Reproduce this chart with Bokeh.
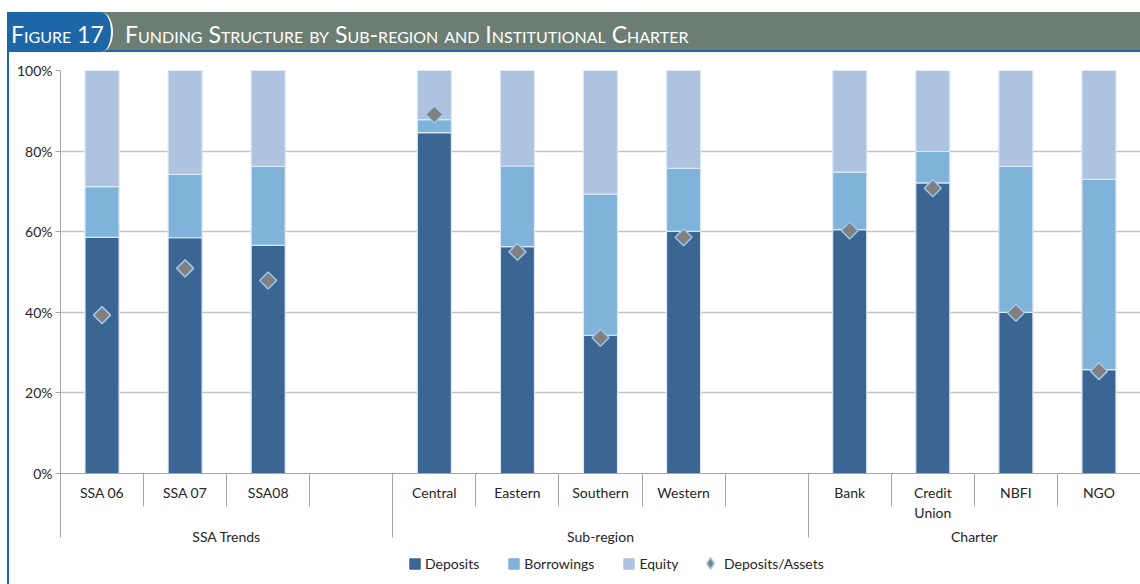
import math
from bokeh.plotting import figure
from bokeh.models import (ColumnDataSource, FixedTicker, LinearAxis, Range1d,
                          PrintfTickFormatter, Legend, LegendItem, Div)
from bokeh.layouts import column
from bokeh.embed import file_html
from bokeh.resources import INLINE

# ---------------- data ----------------
groups = ["SSA Trends", "Sub-region", "Charter"]
group_members = [["SSA 06", "SSA 07", "SSA08"],
                 ["Central", "Eastern", "Southern", "Western"],
                 ["Bank", "Credit Union", "NBFI", "NGO"]]
tick_labels = ["SSA 06", "SSA 07", "SSA08",
               "Central", "Eastern", "Southern", "Western",
               "Bank", "Credit\nUnion", "NBFI", "NGO"]
deposits = [58.6, 58.5, 56.6, 84.6, 56.3, 34.3, 60.1, 60.5, 72.1, 40.0, 25.8]
borrowings = [12.6, 15.7, 19.6, 3.2, 20.0, 35.0, 15.6, 14.3, 7.8, 36.2, 47.2]
equity = [28.8, 25.8, 23.8, 12.2, 23.7, 30.7, 24.3, 25.2, 20.1, 23.8, 27.0]
deposits_assets = [39.3, 50.9, 47.9, 89.1, 55.0, 33.7, 58.6, 60.3, 70.8, 39.9, 25.4]
series_names = ["Deposits", "Borrowings", "Equity", "Deposits/Assets"]
y_ticks = [0, 20, 40, 60, 80, 100]

# ---------------- slot layout (one empty slot after each group but the last) ----
xs, group_centers, group_starts = [], [], []
i = 0
for gi, members in enumerate(group_members):
    start = i
    group_starts.append(start)
    for m in members:
        xs.append(i + 0.5)
        i += 1
    if gi < len(group_members) - 1:
        i += 1
    group_centers.append((start + i) / 2)
n_slots = i
boundaries = list(range(0, n_slots))

C_DEP = "#3b6593"
C_BOR = "#7fb3d9"
C_EQU = "#aec3e0"
C_DIA = "#808080"
C_DIA_LINE = "#9fc5e8"
BAR_LINE = "#dce8f4"
AX = "#a6a6a6"
TXT = "#262626"
FONT = "Lato"
BLUE = "#1d66a8"
W = 1131

src = ColumnDataSource(dict(x=xs, Deposits=deposits, Borrowings=borrowings,
                            Equity=equity, da=deposits_assets))

p = figure(width=W, height=495, x_range=Range1d(0, n_slots), y_range=Range1d(0, 100),
           x_axis_type=None, output_backend="svg", toolbar_location=None,
           min_border_left=51, min_border_right=0, min_border_top=16, min_border_bottom=76)
p.outline_line_color = None
p.xgrid.visible = False
p.ygrid.grid_line_color = "#c4c4c4"
p.ygrid.grid_line_width = 1.4
p.ygrid.ticker = FixedTicker(ticks=y_ticks)

bars = p.vbar_stack(["Deposits", "Borrowings", "Equity"], x="x", width=0.41, source=src,
                    color=[C_DEP, C_BOR, C_EQU], line_color=BAR_LINE, line_width=1.2)
dia = p.scatter(x="x", y="da", source=src, marker="square", size=12, angle=math.pi / 4,
                fill_color=C_DIA, line_color=C_DIA_LINE, line_width=1.5)

# y axis
ya = p.yaxis[0]
ya.ticker = FixedTicker(ticks=y_ticks)
ya.formatter = PrintfTickFormatter(format="%d%%")
ya.axis_line_color = AX
ya.major_tick_line_color = AX
ya.major_tick_out = 5
ya.major_tick_in = 0
ya.minor_tick_line_color = None
ya.major_label_text_font = FONT
ya.major_label_text_font_size = "14px"
ya.major_label_text_color = TXT
ya.major_label_standoff = 3

# category axis (separators drawn as minor ticks at slot boundaries)
ax1 = LinearAxis(ticker=FixedTicker(ticks=xs, minor_ticks=boundaries),
                 major_label_overrides={x: lab for x, lab in zip(xs, tick_labels)})
ax1.axis_line_color = AX
ax1.major_tick_line_color = None
ax1.major_tick_out = 0
ax1.major_tick_in = 0
ax1.minor_tick_line_color = AX
ax1.minor_tick_in = 0
ax1.minor_tick_out = 33
ax1.major_label_standoff = -23
ax1.major_label_text_font = FONT
ax1.major_label_text_font_size = "14px"
ax1.major_label_text_color = TXT
p.add_layout(ax1, "below")

# group axis
ax2 = LinearAxis(ticker=FixedTicker(ticks=group_centers, minor_ticks=group_starts),
                 major_label_overrides={x: g for x, g in zip(group_centers, groups)})
ax2.axis_line_color = None
ax2.major_tick_line_color = None
ax2.major_tick_out = 0
ax2.major_tick_in = 0
ax2.minor_tick_line_color = AX
ax2.minor_tick_in = 30
ax2.minor_tick_out = 14
ax2.major_label_standoff = -10
ax2.major_label_text_font = FONT
ax2.major_label_text_font_size = "14px"
ax2.major_label_text_color = TXT
p.add_layout(ax2, "below")

# legend in a small strip below the chart (hidden proxy renderers only supply swatches)
lg = figure(width=W, height=35, x_range=Range1d(0, 1), y_range=Range1d(0, 1),
            x_axis_type=None, y_axis_type=None, output_backend="svg", toolbar_location=None,
            min_border=0)
lg.outline_line_color = None
lg.grid.visible = False
proxy = ColumnDataSource(dict(x=[0.5], y=[0.5]))
r_dep = lg.rect(x="x", y="y", width=0.01, height=0.3, source=proxy, fill_color=C_DEP, line_color=C_DEP)
r_bor = lg.rect(x="x", y="y", width=0.01, height=0.3, source=proxy, fill_color=C_BOR, line_color=C_BOR)
r_equ = lg.rect(x="x", y="y", width=0.01, height=0.3, source=proxy, fill_color=C_EQU, line_color=C_EQU)
r_dia = lg.scatter(x="x", y="y", source=proxy, marker="diamond", size=12,
                   fill_color=C_DIA, line_color=C_DIA_LINE, line_width=1.5)
for r in (r_dep, r_bor, r_equ, r_dia):
    r.visible = False
legend_bars = Legend(items=[LegendItem(label=n, renderers=[r])
                            for n, r in zip(series_names[:3], (r_dep, r_bor, r_equ))],
                     orientation="horizontal", location=(348, 12),
                     border_line_color=None, background_fill_alpha=0,
                     label_text_font=FONT, label_text_font_size="14px", label_text_color=TXT,
                     glyph_width=13, glyph_height=13, label_standoff=4, spacing=28,
                     padding=2, margin=0)
legend_dia = Legend(items=[LegendItem(label=series_names[3], renderers=[r_dia])],
                    orientation="horizontal", location=(636, 7),
                    border_line_color=None, background_fill_alpha=0,
                    label_text_font=FONT, label_text_font_size="14px", label_text_color=TXT,
                    glyph_width=28, glyph_height=28, label_standoff=-4,
                    padding=2, margin=0)
lg.add_layout(legend_bars)
lg.add_layout(legend_dia)

title_html = """
<div style="position:relative;width:1131px;height:54px;font-family:Lato, sans-serif;">
  <div style="position:absolute;left:0;top:12px;width:1131px;height:40px;background:#6c7e73;border-bottom:2px solid #1d66a8;"></div>
  <div style="position:absolute;left:-2px;top:12px;width:106px;height:40px;background:#1d66a8;border-right:2px solid #ffffff;border-radius:0 12px 12px 0 / 0 50% 50% 0;"></div>
  <div style="position:absolute;left:2px;top:12px;height:40px;line-height:44px;color:#ffffff;font-size:23px;font-variant:small-caps;white-space:nowrap;">Figure 17</div>
  <div style="position:absolute;left:116px;top:12px;height:40px;line-height:44px;color:#ffffff;font-size:23px;font-variant:small-caps;white-space:nowrap;">Funding Structure by Sub-region and Institutional Charter</div>
</div>
"""
title = Div(text=title_html, width=W, height=54, margin=(0, 0, 0, 0))

layout = column(title, p, lg, spacing=0,
                styles={"margin-left": "7px", "padding-left": "2px",
                        "background-image": "linear-gradient(%s, %s)" % (BLUE, BLUE),
                        "background-repeat": "no-repeat",
                        "background-size": "2px calc(100% - 12px)",
                        "background-position": "0 12px"})
open("out.html", "w").write(file_html(layout, INLINE))
